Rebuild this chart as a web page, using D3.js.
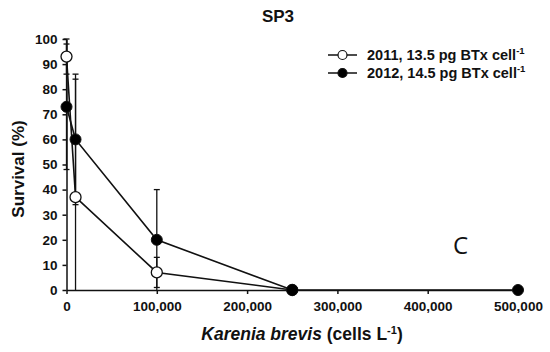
<!DOCTYPE html>
<html>
<head>
<meta charset="utf-8">
<script src="https://cdn.jsdelivr.net/npm/d3@7"></script>
<style>
  body { margin: 0; background: white; }
  text { font-family: "Liberation Sans", Arial, sans-serif; }
</style>
</head>
<body>
<div id="root"></div>
<script>
// data
var cells = [0, 10000, 100000, 250000, 500000];
var surv2011 = [93, 37, 7, 0];
var err2011 = [7, 47, 6, 0];
var surv2012 = [73, 60, 20, 0, 0];
var err2012 = [25, 26, 20, 0, 0];
var xTicks = [0, 100000, 200000, 300000, 400000, 500000];
var yTicks = [0, 10, 20, 30, 40, 50, 60, 70, 80, 90, 100];

var w = 550, h = 352;
var margin = {top: 39, right: 32, bottom: 62, left: 66.5};

var svg = d3.select("#root").append("svg").attr("width", w).attr("height", h);
svg.append("rect").attr("width", w).attr("height", h).attr("fill", "white");

var xScale = d3.scaleLinear().domain([0, 500000]).range([margin.left, w - margin.right]);
var yScale = d3.scaleLinear().domain([0, 100]).range([h - margin.bottom, margin.top]);

// axes
var xAxis = d3.axisBottom(xScale).tickValues(xTicks).tickFormat(d3.format(",")).tickSize(4).tickSizeOuter(0);
var yAxis = d3.axisLeft(yScale).tickValues(yTicks).tickSize(4).tickSizeOuter(0);

var gx = svg.append("g").attr("transform", "translate(0," + yScale(0) + ")").call(xAxis);
var gy = svg.append("g").attr("transform", "translate(" + xScale(0) + ",0)").call(yAxis);
[gx, gy].forEach(function(g) {
  g.selectAll("path, line").attr("stroke", "#111").attr("stroke-width", 1.5);
  g.selectAll("text").attr("fill", "#111").style("font-size", "13.5px").style("font-weight", "bold")
    .style("font-family", "'Liberation Sans', Arial, sans-serif");
});
gx.selectAll("text").attr("dy", "1.0em");
gy.selectAll("text").attr("dx", "-2px");

function series(vals, errs) {
  return vals.map(function(v, i) { return {x: cells[i], y: v, e: errs[i]}; });
}
var s2011 = series(surv2011, err2011);
var s2012 = series(surv2012, err2012);

// error bars
function drawErr(data) {
  var g = svg.append("g").attr("stroke", "#111").attr("stroke-width", 1.3);
  data.filter(function(d) { return d.e > 0; }).forEach(function(d) {
    var hi = d.y + d.e, lo = Math.max(0, d.y - d.e);
    var cx = xScale(d.x);
    g.append("line").attr("x1", cx).attr("x2", cx).attr("y1", yScale(hi)).attr("y2", yScale(lo));
    g.append("line").attr("x1", cx - 3).attr("x2", cx + 3).attr("y1", yScale(hi)).attr("y2", yScale(hi));
    if (lo > 0) g.append("line").attr("x1", cx - 3).attr("x2", cx + 3).attr("y1", yScale(lo)).attr("y2", yScale(lo));
  });
}
drawErr(s2011);
drawErr(s2012);

var line = d3.line().x(function(d) { return xScale(d.x); }).y(function(d) { return yScale(d.y); });
svg.append("path").datum(s2011).attr("d", line).attr("fill", "none").attr("stroke", "#111").attr("stroke-width", 1.6);
svg.append("path").datum(s2012).attr("d", line).attr("fill", "none").attr("stroke", "#111").attr("stroke-width", 1.6);

svg.selectAll(".p12").data(s2012).enter().append("circle").attr("class", "p12")
  .attr("cx", function(d) { return xScale(d.x); }).attr("cy", function(d) { return yScale(d.y); })
  .attr("r", 5.5).attr("fill", "#000").attr("stroke", "#111").attr("stroke-width", 1);
svg.selectAll(".p11").data(s2011).enter().append("circle").attr("class", "p11")
  .attr("cx", function(d) { return xScale(d.x); }).attr("cy", function(d) { return yScale(d.y); })
  .attr("r", 5.5).attr("fill", "white").attr("stroke", "#111").attr("stroke-width", 1.3);
// the 250,000 point is drawn filled in the picture
svg.append("circle").attr("cx", xScale(250000)).attr("cy", yScale(0)).attr("r", 5.5).attr("fill", "#000");

// title
svg.append("text").attr("x", 278).attr("y", 22).attr("text-anchor", "middle")
  .style("font-size", "17px").style("font-weight", "bold").attr("fill", "#111").text("SP3");

// y label
svg.append("text").attr("transform", "translate(24," + 169 + ") rotate(-90)").attr("text-anchor", "middle")
  .style("font-size", "17px").style("font-weight", "bold").attr("fill", "#111").text("Survival (%)");

// x label
var xl = svg.append("text").attr("x", 302).attr("y", 340).attr("text-anchor", "middle")
  .style("font-size", "17.5px").style("font-weight", "bold").attr("fill", "#111");
xl.append("tspan").style("font-style", "italic").text("Karenia brevis");
xl.append("tspan").text(" (cells L");
xl.append("tspan").attr("dy", -6).style("font-size", "11px").text("-1");
xl.append("tspan").attr("dy", 6).text(")");

// legend
var legend = [
  {label: "2011, 13.5 pg BTx cell", fill: "white", y: 55},
  {label: "2012, 14.5 pg BTx cell", fill: "#000", y: 73}
];
legend.forEach(function(l) {
  svg.append("line").attr("x1", 328).attr("x2", 357).attr("y1", l.y).attr("y2", l.y)
    .attr("stroke", "#111").attr("stroke-width", 1.5);
  svg.append("circle").attr("cx", 342.5).attr("cy", l.y).attr("r", 4.5)
    .attr("fill", l.fill).attr("stroke", "#111").attr("stroke-width", 1.2);
  var t = svg.append("text").attr("x", 367).attr("y", l.y + 5)
    .style("font-size", "14.5px").style("font-weight", "bold").attr("fill", "#111");
  t.append("tspan").text(l.label);
  t.append("tspan").attr("dy", -6).style("font-size", "9.5px").text("-1");
});

// panel letter
svg.append("text").attr("x", 453).attr("y", 254).style("font-size", "24px")
  .style("font-family", "'Open Sans', 'DejaVu Sans', sans-serif").attr("fill", "#111").text("C");
</script>
</body>
</html>
